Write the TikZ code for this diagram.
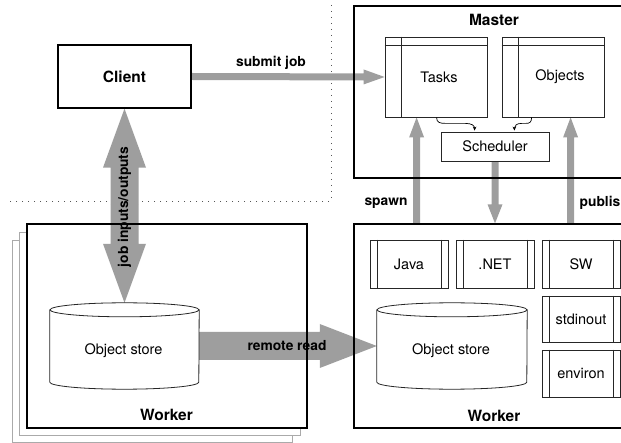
\documentclass[tikz,border=0pt]{standalone}
\usepackage{fontspec}
\setmainfont{TeX Gyre Heros}
\usetikzlibrary{calc,arrows.meta}
\definecolor{arrowgray}{HTML}{9E9E9E}
\definecolor{dotgray}{HTML}{555555}
\definecolor{shadowgray}{HTML}{AAAAAA}
\pgfdeclarelayer{back}
\pgfdeclarelayer{arrowlayer}
\pgfsetlayers{back,arrowlayer,main}
% from, to, shaft width, head length, head width
\newcommand{\fatarrow}[5]{%
  \path ($(#2)!#4!(#1)$) coordinate (hb);
  \fill[arrowgray] ($(#1)!0.5*#3!90:(#2)$) -- ($(hb)!0.5*#3!90:(#2)$) -- ($(hb)!0.5*#5!90:(#2)$) -- (#2)
    -- ($(hb)!0.5*#5!-90:(#2)$) -- ($(hb)!0.5*#3!-90:(#2)$) -- ($(#1)!0.5*#3!-90:(#2)$) -- cycle;
}
% node name, x radius
\newcommand{\cylshape}[2]{%
  \draw[cylline] ($(#1.north west)+(0,7)$) -- ($(#1.south west)+(0,-7)$)
    arc[start angle=180,end angle=360,x radius=#2,y radius=7pt] -- ($(#1.north east)+(0,7)$);
  \draw[cylline] ($(#1.north)+(0,7)$) ellipse [x radius=#2, y radius=7pt];
}
% node name: bars at left and right
\newcommand{\sidebars}[1]{%
  \draw[barline] ($(#1.north west)+(8,0)$) -- ($(#1.south west)+(8,0)$);
  \draw[barline] ($(#1.north east)+(-7,0)$) -- ($(#1.south east)+(-7,0)$);
}
% node name: window bars (left bar + header)
\newcommand{\winbars}[1]{%
  \draw[barline] ($(#1.north west)+(17,0)$) -- ($(#1.south west)+(17,0)$);
  \draw[barline] ($(#1.north west)+(0,9)$) -- ($(#1.north east)+(0,9)$);
}
\begin{document}
\begin{tikzpicture}[x=1pt,y=-1pt,
  bigbox/.style={draw, line width=1.3pt, inner sep=0pt},
  smallbox/.style={draw=black!85, line width=0.8pt, inner sep=0pt},
  barline/.style={draw=black!85, line width=0.8pt},
  cylline/.style={draw=black!85, line width=0.8pt},
  title/.style={font=\fontsize{15.5}{18}\selectfont\bfseries, inner sep=0pt},
  lab/.style={font=\fontsize{13.8}{16}\selectfont\bfseries, inner sep=0pt},
  txt/.style={font=\fontsize{14.5}{17}\selectfont, inner sep=0pt},
  curl/.style={draw=black, line width=0.7pt, -{Stealth[length=4pt,width=3.6pt]}},
  dotline/.style={draw=dotgray, line width=0.9pt, dash pattern=on 1.1pt off 4.9pt},
  shadowline/.style={draw=shadowgray, line width=1pt}
]
\useasboundingbox (0,0) rectangle (621,443);

% ---------- boxes ----------
\node[bigbox, minimum width=133pt, minimum height=63pt, title] (client) at (124.5,76.5) {Client};

\node[bigbox, minimum width=300pt, minimum height=172pt] (master) at (504,92) {};
\node[title] (mastertitle) at (494,20) {Master};
\node[smallbox, minimum width=102pt, minimum height=80pt, txt] (tasks) at (436,77) {\hspace*{6pt}Tasks};
\node[smallbox, minimum width=102pt, minimum height=80pt, txt] (objects) at (553,77) {\hspace*{14pt}Objects};
\winbars{tasks}
\winbars{objects}
\node[smallbox, minimum width=108pt, minimum height=29pt, txt] (sched) at (495,146.5) {Scheduler};

\node[bigbox, minimum width=300pt, minimum height=204pt] (workerR) at (504,326) {};
\node[title] (workerRtitle) at (494,416) {Worker};
\node[smallbox, minimum width=78pt, minimum height=48pt, txt] (java) at (409,264) {Java};
\node[smallbox, minimum width=78pt, minimum height=48pt, txt] (dotnet) at (495,264) {.NET};
\node[smallbox, minimum width=78pt, minimum height=48pt, txt] (sw) at (581,264) {SW};
\node[smallbox, minimum width=78pt, minimum height=46pt, txt] (stdinout) at (581,319) {stdinout};
\node[smallbox, minimum width=78pt, minimum height=47pt, txt] (environ) at (581,373.5) {environ};
\sidebars{java}
\sidebars{dotnet}
\sidebars{sw}
\sidebars{stdinout}
\sidebars{environ}
\node[minimum width=150pt, minimum height=86pt, inner sep=0pt] (cylR) at (452,346) {};
\cylshape{cylR}{75pt}
\node[txt] (cylRtext) at (451,351) {Object store};

\node[bigbox, minimum width=280pt, minimum height=204pt] (workerL) at (167,326) {};
\node[title] (workerLtitle) at (166.5,415) {Worker};
\node[minimum width=149pt, minimum height=86pt, inner sep=0pt] (cylL) at (124.5,346) {};
\cylshape{cylL}{74.5pt}
\node[txt] (cylLtext) at (123.5,351) {Object store};

% ---------- background: shadows, dotted separators ----------
\begin{pgfonlayer}{back}
  \draw[shadowline] (12,241) rectangle (292,442);
  \draw[shadowline, fill=white] (19,233) rectangle (300,435);
  \fill[white] (workerL.north west) rectangle (workerL.south east);
  \coordinate (dtop) at (331,5);
  \coordinate (dcorner) at (331,201);
  \coordinate (dleft) at (10,201);
  \draw[dotline] (dtop) -- (dcorner) -- (dleft);
\end{pgfonlayer}

% ---------- fat arrows ----------
\begin{pgfonlayer}{arrowlayer}
  \fatarrow{client.east}{tasks.west}{7pt}{21pt}{15pt}
  \coordinate (jobmid) at (124.5,205);
  \fatarrow{jobmid}{client.south}{28pt}{59pt}{43pt}
  \fatarrow{jobmid}{cylL.north}{28pt}{59pt}{43pt}
  \fatarrow{cylL.east}{cylR.west}{28pt}{57pt}{44pt}
  \coordinate (spawnT) at ($(tasks.south west)+(32,0)$);
  \coordinate (spawnB) at (spawnT |- workerR.north);
  \fatarrow{spawnB}{spawnT}{7pt}{20pt}{15pt}
  \coordinate (schedB) at (sched.south |- workerR.north);
  \fatarrow{sched.south}{schedB}{7pt}{19pt}{15pt}
  \coordinate (pubT) at ($(objects.south west)+(69,0)$);
  \coordinate (pubB) at (pubT |- workerR.north);
  \fatarrow{pubB}{pubT}{7pt}{20pt}{15pt}
\end{pgfonlayer}

% ---------- curly connectors ----------
\coordinate (cl1) at ($(tasks.south west)+(52,0)$);
\coordinate (cl2) at ($(sched.north west)+(34,-1)$);
\draw[curl] (cl1) .. controls +(0,5) and +(-6,0) .. ++(9,6) -- ++(20,0) .. controls +(6,0) and +(0,-5) .. (cl2);
\coordinate (cr1) at ($(objects.south west)+(30,0)$);
\coordinate (cr2) at ($(sched.north east)+(-35,-1)$);
\draw[curl] (cr1) .. controls +(0,5) and +(4,0) .. ++(-6,6) -- ++(-4,0) .. controls +(-5,0) and +(0,-5) .. (cr2);

% ---------- labels ----------
\node[lab] (submitlab) at (271,63) {submit job};
\node[lab] (spawnlab) at (386,203) {spawn};
\node[lab] (publab) at (600,203) {publis};
\node[lab] (remotelab) at (287,346) {remote read};
\node[lab, rotate=90] (joblab) at (124.5,207) {job inputs/outputs};
\end{tikzpicture}
\end{document}
